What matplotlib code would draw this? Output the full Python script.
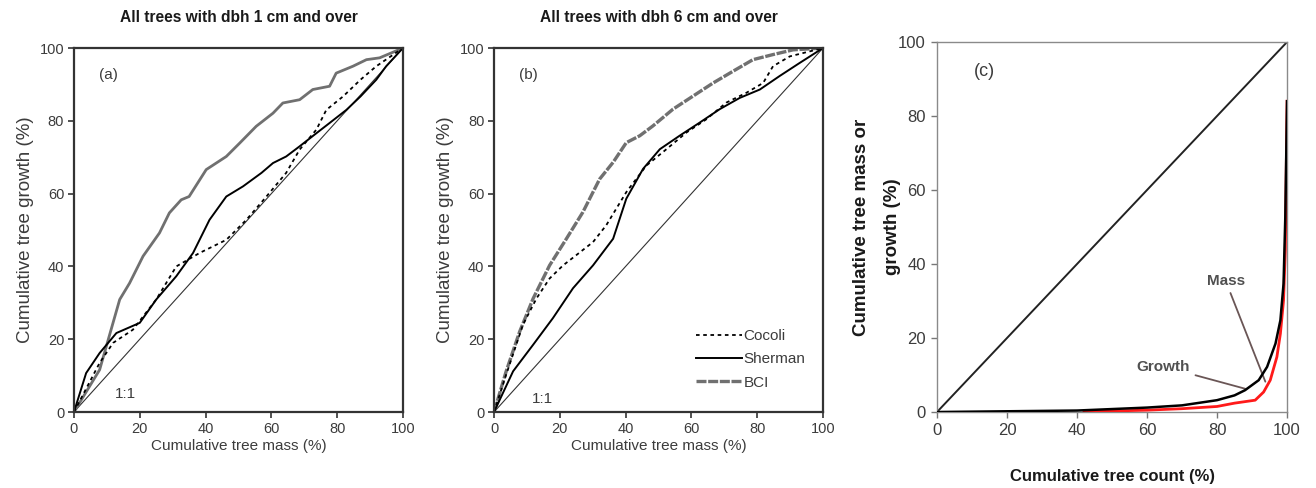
import matplotlib.pyplot as plt

plt.rcParams['font.family'] = ['Liberation Sans', 'DejaVu Sans']

# ---------------------------------------------------------------------------
# Panel (a): all trees with dbh >= 1 cm  (cumulative mass %, cumulative growth %)
# ---------------------------------------------------------------------------
a_bci_x = [0, 7.8, 13.9, 16.9, 21.0, 26.0, 29.0, 32.6, 35.0, 40.2, 46.3, 50.4,
           55.4, 60.5, 63.5, 68.6, 72.6, 77.7, 79.7, 84.8, 88.9, 92.9, 100]
a_bci_y = [0, 11.6, 30.9, 35.4, 42.8, 49.2, 54.7, 58.3, 59.2, 66.6, 70.2, 73.9,
           78.5, 82.1, 84.9, 85.8, 88.6, 89.5, 93.1, 95.0, 96.8, 97.3, 100]

a_sherman_x = [0, 3.7, 7.8, 12.9, 20.0, 25.0, 31.1, 36.2, 41.2, 46.3, 51.4, 57.0,
               60.5, 64.5, 68.6, 73.7, 77.7, 82.8, 87.1, 91.9, 94.9, 100]
a_sherman_y = [0, 10.7, 16.2, 21.7, 24.5, 30.9, 37.3, 43.7, 52.8, 59.2, 62.0, 65.7,
               68.4, 70.2, 73.0, 76.6, 79.4, 83.0, 86.7, 91.3, 95.0, 100]

a_cocoli_x = [0, 7.8, 11.9, 17.9, 25.0, 31.1, 38.2, 46.3, 52.4, 58.5, 64.5, 68.6,
              73.7, 76.7, 81.8, 87.1, 91.9, 100]
a_cocoli_y = [0, 13.5, 19.0, 22.6, 30.9, 40.0, 43.7, 47.3, 52.8, 59.2, 65.7, 72.1,
              77.6, 83.0, 86.7, 91.3, 95.0, 100]

# ---------------------------------------------------------------------------
# Panel (b): all trees with dbh >= 6 cm
# ---------------------------------------------------------------------------
b_bci_x = [0, 3.7, 7.8, 11.9, 16.9, 22.0, 27.0, 32.1, 36.2, 40.2, 44.3, 48.3,
           54.4, 60.5, 66.6, 72.6, 78.7, 84.8, 90.9, 100]
b_bci_y = [0, 11.2, 22.1, 31.2, 40.3, 47.6, 54.9, 64.0, 68.6, 74.0, 75.9, 78.6,
           83.2, 86.8, 90.4, 93.6, 96.8, 98.2, 99.5, 100]

b_sherman_x = [0, 5.8, 11.9, 17.9, 24.0, 30.1, 36.2, 40.2, 45.3, 50.4, 56.4,
               62.5, 68.6, 74.7, 80.8, 86.8, 92.9, 100]
b_sherman_y = [0, 11.2, 18.5, 25.8, 34.0, 40.3, 47.6, 58.6, 66.8, 72.2, 75.9,
               79.5, 83.2, 86.3, 88.6, 92.3, 95.9, 100]

b_cocoli_x = [0, 3.7, 8.8, 12.9, 16.9, 21.0, 25.0, 30.1, 34.1, 40.2, 46.3, 52.4,
              58.5, 64.5, 70.6, 76.7, 81.8, 84.8, 89.9, 100]
b_cocoli_y = [0, 10.3, 24.0, 31.2, 36.7, 40.3, 43.1, 46.7, 51.3, 60.4, 67.7, 72.2,
              76.8, 80.4, 85.0, 87.7, 90.4, 95.0, 97.7, 100]

# ---------------------------------------------------------------------------
# Panel (c): cumulative tree count % vs cumulative mass / growth %
# ---------------------------------------------------------------------------
c_growth_x = [0, 20, 40, 60, 70, 80, 85, 88, 91.9, 94.3, 96.7, 98.1, 99.0, 99.5, 100]
c_growth_y = [0, 0.2, 0.4, 1.2, 1.8, 3.2, 4.5, 5.9, 8.6, 12.2, 18.5, 24.8, 34.7, 52.7, 84]

c_mass_x = [42, 60, 70, 80, 85, 90.9, 93.3, 95.2, 97.1, 98.1, 99.0, 99.5, 100]
c_mass_y = [0.1, 0.5, 0.9, 1.5, 2.4, 3.2, 5.4, 8.6, 14.9, 21.2, 30.2, 43.7, 84]

one_to_one = [0, 100]
ticks = [0, 20, 40, 60, 80, 100]

GREY_TXT = '#3c3c3c'
BCI_COL = '#707070'

fig = plt.figure(figsize=(13.16, 4.88), dpi=100)
ax_a = fig.add_axes([0.0562, 0.1557, 0.2500, 0.7459])
ax_b = fig.add_axes([0.3754, 0.1557, 0.2500, 0.7459])
ax_c = fig.add_axes([0.7120, 0.1557, 0.2660, 0.7582])


def style_ab(ax, title, tag):
    ax.set_xlim(0, 100)
    ax.set_ylim(0, 100)
    ax.set_xticks(ticks)
    ax.set_yticks(ticks)
    ax.tick_params(direction='out', length=4, width=1.2, colors='#333333',
                   labelsize=10.5, labelcolor=GREY_TXT, pad=3)
    for sp in ax.spines.values():
        sp.set_linewidth(1.6)
        sp.set_color('#333333')
    ax.set_xlabel('Cumulative tree mass (%)', fontsize=11, color=GREY_TXT, labelpad=2)
    ax.set_ylabel('Cumulative tree growth (%)', fontsize=13.5, color=GREY_TXT,
                  labelpad=4)
    ax.set_title(title, fontsize=11.2, fontweight='bold', color='#1a1a1a', pad=19)
    ax.text(7.5, 92.5, tag, fontsize=11, color=GREY_TXT, va='center')
    ax.plot(one_to_one, one_to_one, color='#333333', lw=0.8)


style_ab(ax_a, 'All trees with dbh 1 cm and over', '(a)')
ax_a.plot(a_bci_x, a_bci_y, color=BCI_COL, lw=2.0)
ax_a.plot(a_sherman_x, a_sherman_y, color='black', lw=1.4)
ax_a.plot(a_cocoli_x, a_cocoli_y, color='black', lw=1.3, ls=(0, (2, 2)))
ax_a.text(12.5, 5, '1:1', fontsize=11, color=GREY_TXT, va='center')

style_ab(ax_b, 'All trees with dbh 6 cm and over', '(b)')
ax_b.plot(b_bci_x, b_bci_y, color=BCI_COL, lw=2.4, ls=(0, (3, 0.5)), label='BCI')
ax_b.plot(b_sherman_x, b_sherman_y, color='black', lw=1.4, label='Sherman')
ax_b.plot(b_cocoli_x, b_cocoli_y, color='black', lw=1.3, ls=(0, (2, 2)), label='Cocoli')
ax_b.text(11.5, 3.5, '1:1', fontsize=11, color=GREY_TXT, va='center')
handles, labels = ax_b.get_legend_handles_labels()
leg = ax_b.legend(handles[::-1], labels[::-1], loc='lower left',
                  bbox_to_anchor=(0.595, 0.045), frameon=False, fontsize=11,
                  handlelength=3.0, handletextpad=0.1, labelspacing=0.6,
                  borderaxespad=0)
for t in leg.get_texts():
    t.set_color(GREY_TXT)

# panel (c)
ax_c.set_xlim(0, 100)
ax_c.set_ylim(0, 100)
ax_c.set_xticks(ticks)
ax_c.set_yticks(ticks)
ax_c.tick_params(direction='out', length=4, width=1.0, colors='#777777',
                 labelsize=12, labelcolor=GREY_TXT, pad=4)
for sp in ax_c.spines.values():
    sp.set_linewidth(1.0)
    sp.set_color('#8a8a8a')
ax_c.plot(one_to_one, one_to_one, color='#222222', lw=1.4)
ax_c.plot(c_mass_x, c_mass_y, color='#ff1a1a', lw=2.0, zorder=3)
ax_c.plot(c_growth_x, c_growth_y, color='black', lw=1.8, zorder=4)
ax_c.text(10.5, 92, '(c)', fontsize=13, color=GREY_TXT, va='center')
ax_c.set_xlabel('Cumulative tree count (%)', fontsize=12, fontweight='bold',
                color='#1a1a1a', labelpad=22)
ax_c.set_ylabel('Cumulative tree mass or\ngrowth (%)', fontsize=13.5,
                fontweight='bold', color='#1a1a1a', labelpad=-2,
                linespacing=2.1)
arrow = dict(arrowstyle='-', color='#6a5656', lw=1.3, shrinkA=2, shrinkB=0)
ax_c.annotate('Mass', xy=(93.8, 8.2), xytext=(77, 35.5), fontsize=11,
              fontweight='bold', color='#505050', ha='left', va='center',
              arrowprops=arrow)
ax_c.annotate('Growth', xy=(88, 6.3), xytext=(57, 12.3), fontsize=11,
              fontweight='bold', color='#505050', ha='left', va='center',
              arrowprops=arrow)

fig.savefig('out.png', dpi=100)
